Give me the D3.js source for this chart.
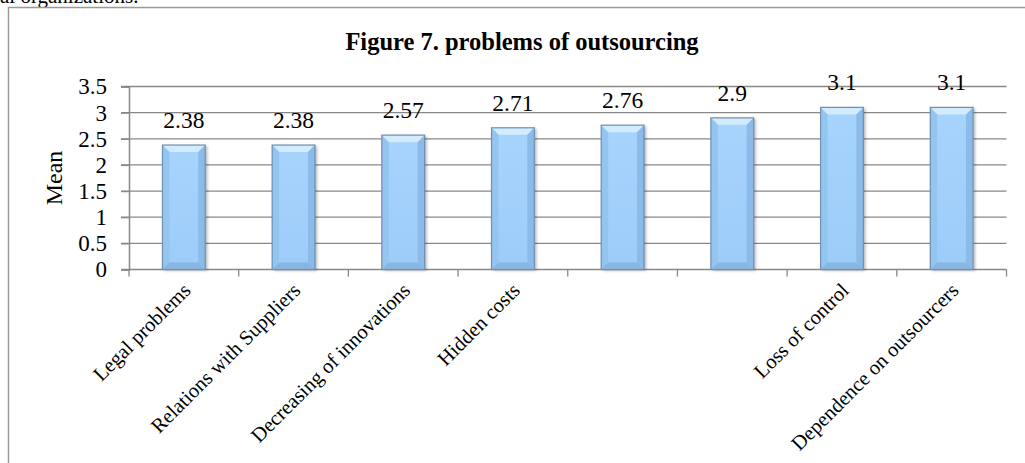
<!DOCTYPE html>
<html>
<head>
<meta charset="utf-8">
<script src="https://cdn.jsdelivr.net/npm/d3@7"></script>
<style>
  html, body { margin: 0; padding: 0; background: #fff; }
  svg { display: block; font-family: "Liberation Serif", "Times New Roman", serif; }
</style>
</head>
<body>
<svg id="chart" width="1025" height="463"></svg>
<script>
// Survey results: mean rating for each outsourcing problem
const categories = [
  "Legal problems",
  "Relations with Suppliers",
  "Decreasing of innovations",
  "Hidden costs",
  "",
  "",
  "Loss of control",
  "Dependence on outsourcers"
];
const meanValues = [2.38, 2.38, 2.57, 2.71, 2.76, 2.9, 3.1, 3.1];
const yTicks = [0, 0.5, 1, 1.5, 2, 2.5, 3, 3.5];
const chartTitle = "Figure 7. problems of outsourcing";
const yAxisTitle = "Mean";

const svg = d3.select("#chart");
const plot = { left: 129, right: 1006.5, top: 86.5, bottom: 269.5 };

const x = d3.scaleBand()
  .domain(d3.range(categories.length))
  .range([plot.left, plot.right])
  .paddingInner(0.61)
  .paddingOuter(0.305);

const y = d3.scaleLinear().domain([0, 3.5]).range([plot.bottom, plot.top]);

// Tail of the preceding paragraph in the document
svg.append("text")
  .attr("x", 0).attr("y", 3)
  .attr("font-size", 21)
  .text("al organizations.");

// Chart frame
svg.append("rect")
  .attr("x", 8.5).attr("y", 7.5)
  .attr("width", 1030).attr("height", 470)
  .attr("fill", "none")
  .attr("stroke", "#9a9a9a")
  .attr("stroke-width", 1.5);

// Title
svg.append("text")
  .attr("x", 522).attr("y", 49.5)
  .attr("text-anchor", "middle")
  .attr("font-size", 24.5)
  .attr("font-weight", "bold")
  .text(chartTitle);

// Horizontal gridlines with tick stubs
const gridColor = "#888";
svg.append("g")
  .selectAll("line")
  .data(yTicks.filter(d => d > 0))
  .join("line")
  .attr("x1", plot.left - 8).attr("x2", plot.right)
  .attr("y1", d => y(d)).attr("y2", d => y(d))
  .attr("stroke", gridColor)
  .attr("stroke-width", 1.3);

// Y axis
const yAxis = svg.append("g")
  .attr("transform", `translate(${plot.left},0)`)
  .call(d3.axisLeft(y).tickValues(yTicks).tickSize(8).tickPadding(14)
    .tickFormat(d3.format("")));
yAxis.select(".domain").attr("stroke", gridColor).attr("stroke-width", 1.5);
yAxis.selectAll(".tick line").attr("stroke", gridColor).attr("stroke-width", 1.3);
yAxis.selectAll(".tick text")
  .attr("font-family", "Liberation Serif, Times New Roman, serif")
  .attr("font-size", 23)
  .attr("fill", "#000");

// X axis with boundary ticks
const xAxisG = svg.append("g");
xAxisG.append("line")
  .attr("x1", plot.left - 8).attr("x2", plot.right)
  .attr("y1", plot.bottom).attr("y2", plot.bottom)
  .attr("stroke", gridColor).attr("stroke-width", 1.5);
const step = x.step();
xAxisG.selectAll("line.tick")
  .data(d3.range(categories.length + 1))
  .join("line")
  .attr("class", "tick")
  .attr("x1", i => plot.left + i * step)
  .attr("x2", i => plot.left + i * step)
  .attr("y1", plot.bottom).attr("y2", plot.bottom + 7)
  .attr("stroke", gridColor).attr("stroke-width", 1.3);

// Y axis title
svg.append("text")
  .attr("transform", `translate(62,178) rotate(-90)`)
  .attr("text-anchor", "middle")
  .attr("font-size", 24)
  .text(yAxisTitle);

// Bevelled bars
const defs = svg.append("defs");
const shadow = defs.append("filter").attr("id", "shadow")
  .attr("x", "-20%").attr("y", "-10%").attr("width", "150%").attr("height", "130%");
shadow.append("feDropShadow")
  .attr("dx", 2).attr("dy", 1).attr("stdDeviation", 1.5)
  .attr("flood-color", "#000").attr("flood-opacity", 0.3);

const faceGrad = defs.append("linearGradient").attr("id", "face")
  .attr("x1", 0).attr("x2", 0).attr("y1", 0).attr("y2", 1);
faceGrad.append("stop").attr("offset", 0).attr("stop-color", "#a6d4fd");
faceGrad.append("stop").attr("offset", 1).attr("stop-color", "#9dccf9");

const bev = 7;
const bars = svg.append("g")
  .selectAll("g")
  .data(meanValues)
  .join("g");

bars.append("rect")
  .attr("x", (d, i) => x(i))
  .attr("y", d => y(d))
  .attr("width", x.bandwidth())
  .attr("height", d => y(0) - y(d))
  .attr("fill", "url(#face)")
  .attr("filter", "url(#shadow)");

// top bevel (light)
bars.append("polygon")
  .attr("points", (d, i) => {
    const x0 = x(i), x1 = x(i) + x.bandwidth(), t = y(d);
    return [[x0, t], [x1, t], [x1 - bev, t + bev], [x0 + bev, t + bev]].join(" ");
  })
  .attr("fill", "#d2ecfe");
// left bevel
bars.append("polygon")
  .attr("points", (d, i) => {
    const x0 = x(i), t = y(d), b = y(0);
    return [[x0, t], [x0 + bev, t + bev], [x0 + bev, b - bev], [x0, b]].join(" ");
  })
  .attr("fill", "#94c5f1");
// right bevel
bars.append("polygon")
  .attr("points", (d, i) => {
    const x1 = x(i) + x.bandwidth(), t = y(d), b = y(0);
    return [[x1, t], [x1 - bev, t + bev], [x1 - bev, b - bev], [x1, b]].join(" ");
  })
  .attr("fill", "#8bbbe8");
// bottom bevel
bars.append("polygon")
  .attr("points", (d, i) => {
    const x0 = x(i), x1 = x(i) + x.bandwidth(), b = y(0);
    return [[x0, b], [x1, b], [x1 - bev, b - bev], [x0 + bev, b - bev]].join(" ");
  })
  .attr("fill", "#88b6e2");
// outline
bars.append("rect")
  .attr("x", (d, i) => x(i))
  .attr("y", d => y(d))
  .attr("width", x.bandwidth())
  .attr("height", d => y(0) - y(d))
  .attr("fill", "none")
  .attr("stroke", "#6f8fb5")
  .attr("stroke-width", 1.2);

// Value labels
svg.append("g")
  .selectAll("text")
  .data(meanValues)
  .join("text")
  .attr("x", (d, i) => x(i) + x.bandwidth() / 2)
  .attr("y", d => y(d) - 17)
  .attr("text-anchor", "middle")
  .attr("font-size", 23.5)
  .text(d => d);

// Rotated category labels
svg.append("g")
  .selectAll("text")
  .data(categories)
  .join("text")
  .attr("transform", (d, i) => `translate(${x(i) + x.bandwidth() / 2 - 2},${plot.bottom + 12}) rotate(-45)`)
  .attr("text-anchor", "end")
  .attr("dy", "0.7em")
  .attr("font-size", 20.5)
  .text(d => d);
</script>
</body>
</html>
